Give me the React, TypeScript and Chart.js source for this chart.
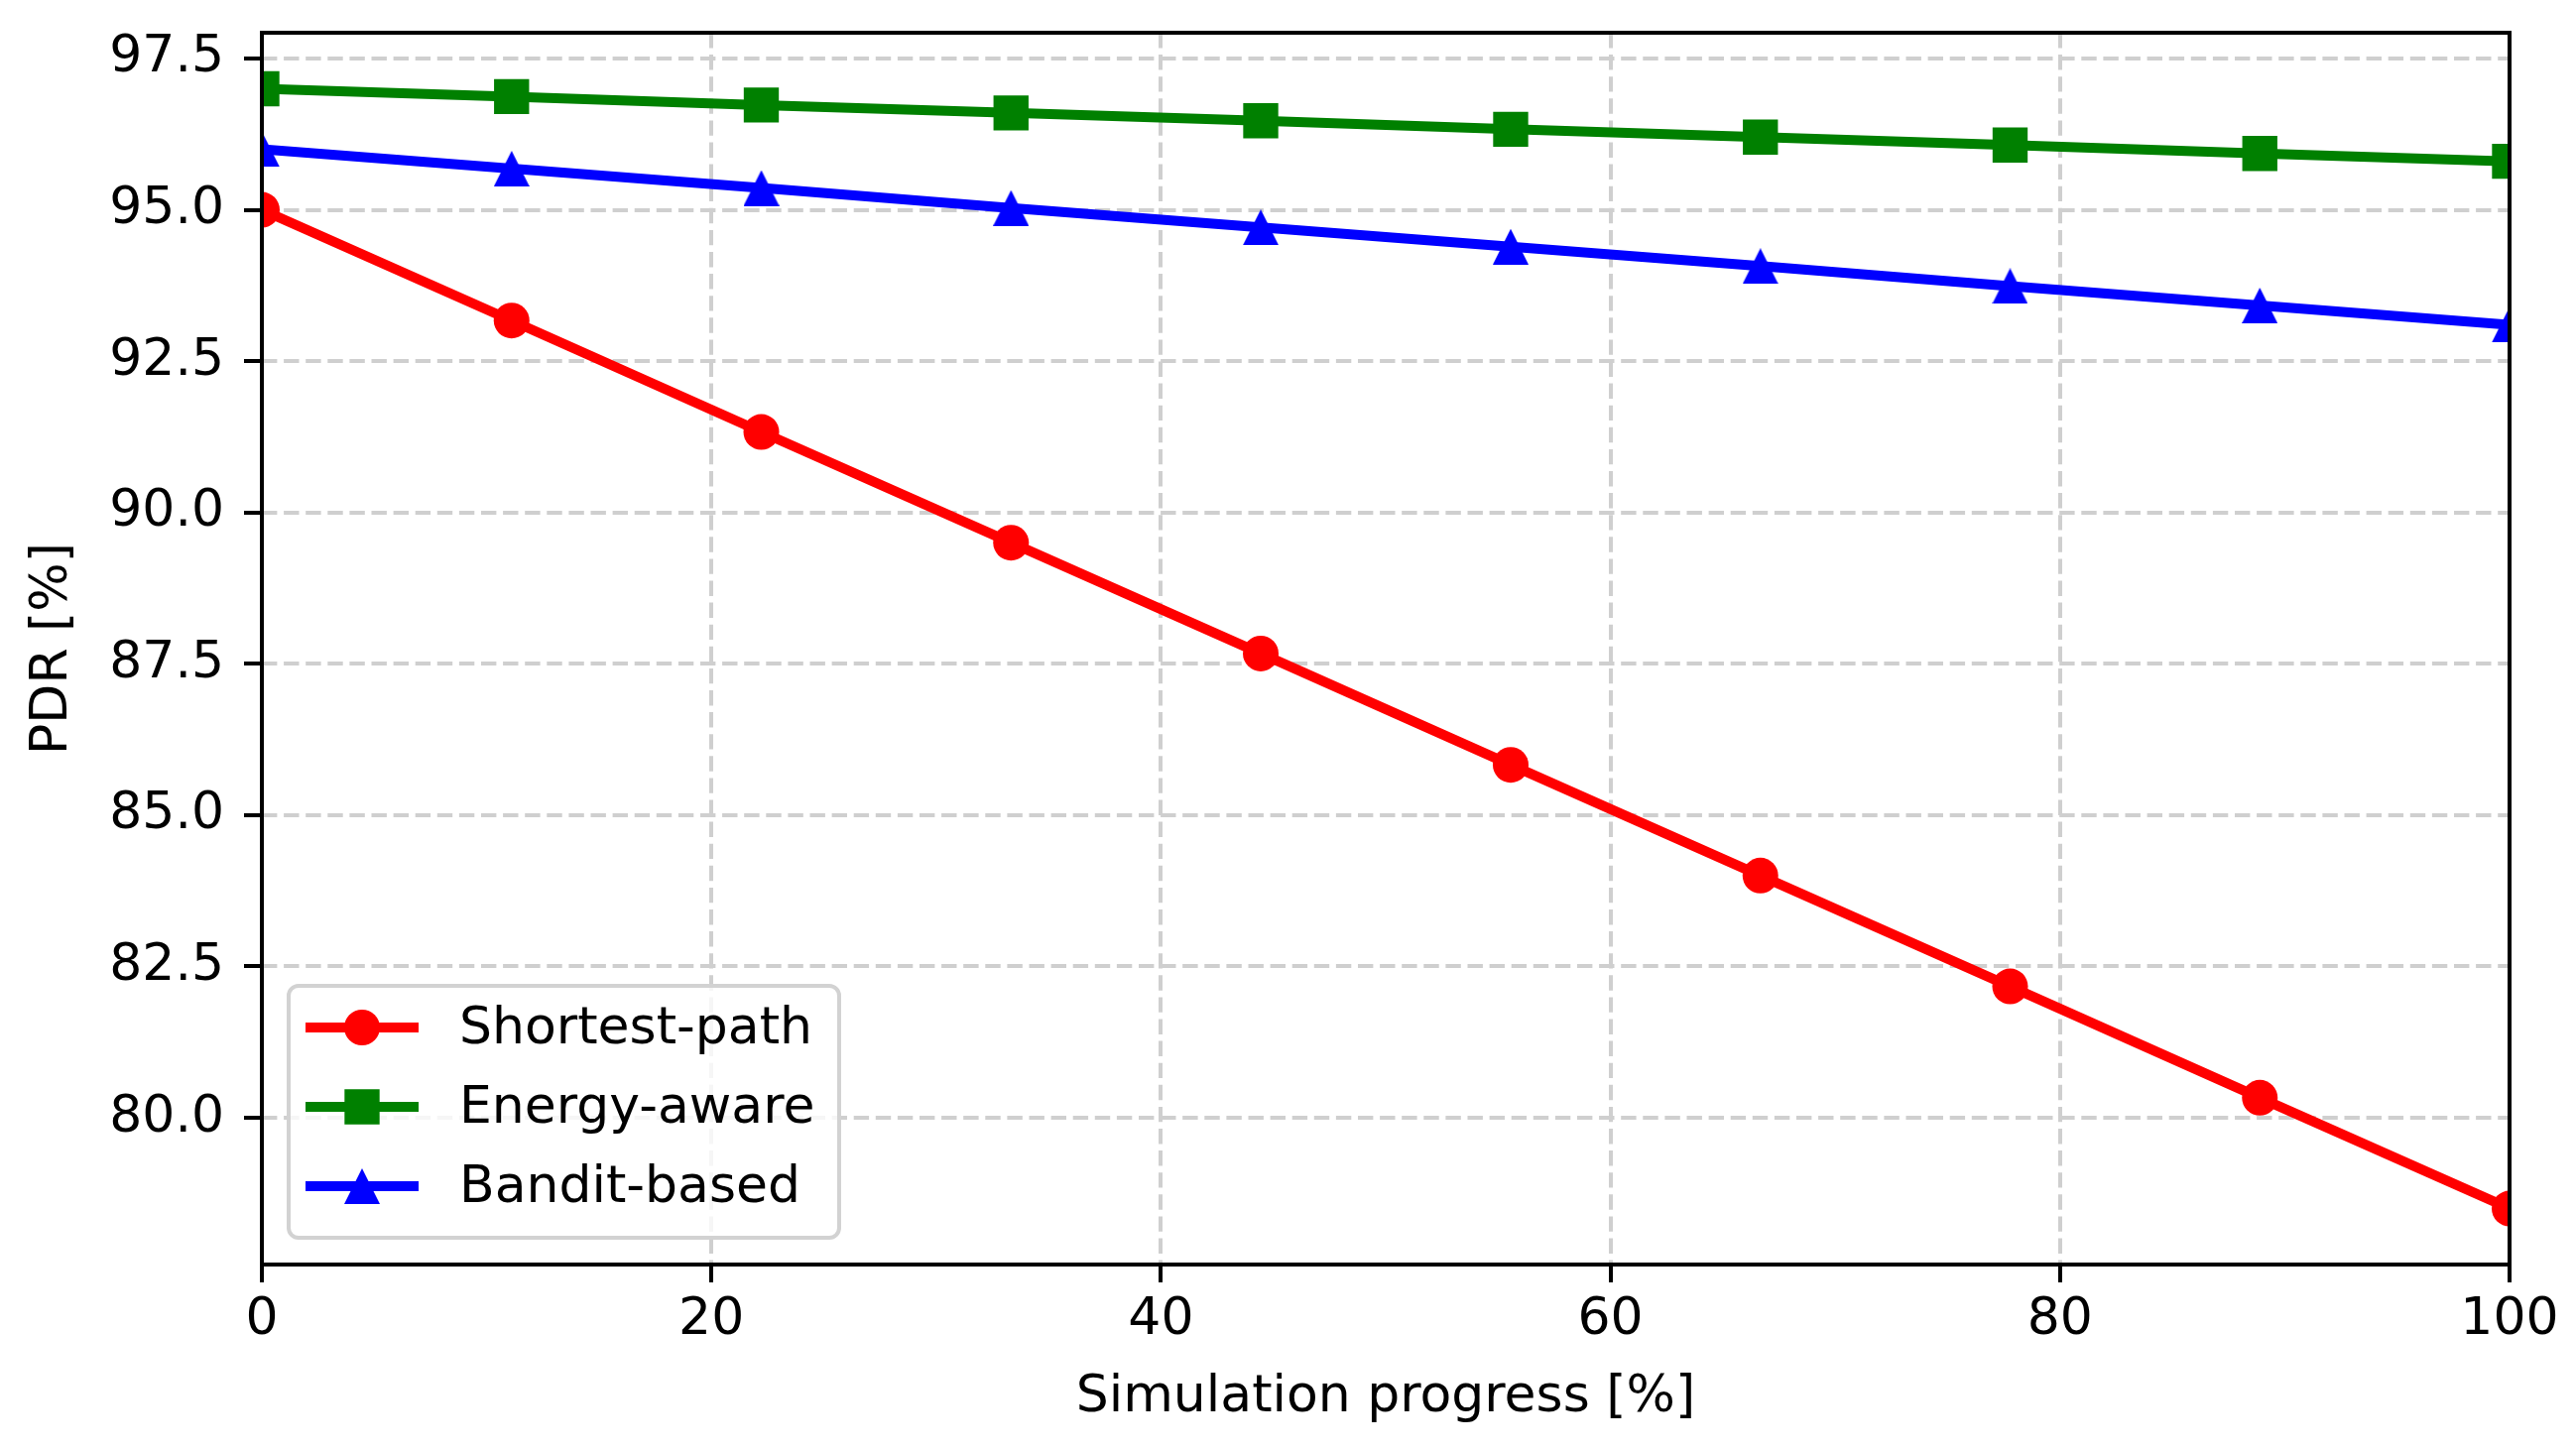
import React, { useEffect, useRef } from 'react';
import { Chart, registerables } from 'chart.js';
import { drawPoint } from 'chart.js/helpers';

Chart.register(...registerables);

// simulation progress [%] (10 evenly spaced runs)
const progress = [0, 11.11, 22.22, 33.33, 44.44, 55.56, 66.67, 77.78, 88.89, 100];

const shortestPath = [95.0, 93.17, 91.33, 89.5, 87.67, 85.83, 84.0, 82.17, 80.33, 78.5];
const energyAware = [97.0, 96.87, 96.73, 96.6, 96.47, 96.33, 96.2, 96.07, 95.93, 95.8];
const banditBased = [96.0, 95.68, 95.36, 95.03, 94.71, 94.39, 94.07, 93.74, 93.42, 93.1];

const xTicks = [0, 20, 40, 60, 80, 100];
const yTicks = [80.0, 82.5, 85.0, 87.5, 90.0, 92.5, 95.0, 97.5];

const FONT = "'DejaVu Sans', 'Liberation Sans', sans-serif";

function makeTriangle(color: string, w: number, h: number) {
  const c = document.createElement('canvas');
  c.width = w;
  c.height = h;
  const g = c.getContext('2d')!;
  g.fillStyle = color;
  g.beginPath();
  g.moveTo(w / 2, 0);
  g.lineTo(w, h);
  g.lineTo(0, h);
  g.closePath();
  g.fill();
  return c;
}

const framePlugin = {
  id: 'frame',
  afterDatasetsDraw(chart: any) {
    const { ctx, chartArea: a } = chart;
    ctx.save();
    ctx.strokeStyle = '#000';
    ctx.lineWidth = 4;
    ctx.strokeRect(a.left, a.top, a.right - a.left, a.bottom - a.top);
    ctx.restore();
  },
};

const legendPlugin = {
  id: 'mplLegend',
  afterDraw(chart: any) {
    const { ctx, chartArea: a } = chart;
    const w = 555;
    const h = 254;
    const x0 = a.left + 27;
    const y0 = a.bottom - 27 - h;
    ctx.save();
    ctx.beginPath();
    ctx.roundRect(x0, y0, w, h, 10);
    ctx.fillStyle = 'rgba(255,255,255,0.8)';
    ctx.fill();
    ctx.strokeStyle = '#d2d2d2';
    ctx.lineWidth = 4;
    ctx.stroke();

    chart.data.datasets.forEach((ds: any, i: number) => {
      const y = y0 + 42 + i * 80;
      const hx = x0 + 17;
      ctx.strokeStyle = ds.borderColor;
      ctx.lineWidth = ds.borderWidth;
      ctx.lineCap = 'butt';
      ctx.beginPath();
      ctx.moveTo(hx, y);
      ctx.lineTo(hx + 114, y);
      ctx.stroke();
      ctx.fillStyle = ds.pointBackgroundColor;
      drawPoint(ctx, { pointStyle: ds.pointStyle, radius: ds.pointRadius, borderWidth: 0, rotation: 0 } as any, hx + 57, y);
      ctx.fillStyle = '#000';
      ctx.font = `52px ${FONT}`;
      ctx.textAlign = 'left';
      ctx.textBaseline = 'middle';
      ctx.fillText(ds.label, x0 + 172, y + 2);
    });
    ctx.restore();
  },
};

export default function App() {
  const canvasRef = useRef<HTMLCanvasElement>(null);
  const chartRef = useRef<Chart | null>(null);

  useEffect(() => {
    document.body.style.margin = '0';
    if (!canvasRef.current) return;
    if (chartRef.current) chartRef.current.destroy();

    const toPoints = (ys: number[]) => progress.map((x, i) => ({ x, y: ys[i] }));
    const tickFont = { family: FONT, size: 52 };
    const noEdgePadding = (axis: any) => {
      axis.paddingTop = 0;
      axis.paddingBottom = 0;
      axis.paddingLeft = 0;
      axis.paddingRight = 0;
    };

    chartRef.current = new Chart(canvasRef.current, {
      type: 'line',
      data: {
        datasets: [
          {
            label: 'Shortest-path',
            data: toPoints(shortestPath),
            borderColor: '#ff0000',
            backgroundColor: '#ff0000',
            pointBackgroundColor: '#ff0000',
            pointStyle: 'circle',
            pointRadius: 18,
          },
          {
            label: 'Energy-aware',
            data: toPoints(energyAware),
            borderColor: '#008000',
            backgroundColor: '#008000',
            pointBackgroundColor: '#008000',
            pointStyle: 'rect',
            pointRadius: 25,
          },
          {
            label: 'Bandit-based',
            data: toPoints(banditBased),
            borderColor: '#0000ff',
            backgroundColor: '#0000ff',
            pointBackgroundColor: '#0000ff',
            pointStyle: makeTriangle('#0000ff', 36, 36),
            pointRadius: 18,
          },
        ].map((ds) => ({
          ...ds,
          borderWidth: 10,
          pointBorderWidth: 0,
          pointHoverRadius: ds.pointRadius,
          borderJoinStyle: 'round' as const,
          tension: 0,
          fill: false,
          clip: 0,
        })),
      },
      options: {
        animation: false,
        responsive: false,
        devicePixelRatio: 1,
        events: [],
        layout: { padding: { top: 33, right: 67, bottom: 0, left: 0 } },
        plugins: {
          legend: { display: false },
          tooltip: { enabled: false },
        },
        scales: {
          x: {
            type: 'linear',
            min: 0,
            max: 100,
            afterBuildTicks: (axis: any) => {
              axis.ticks = xTicks.map((v) => ({ value: v }));
            },
            afterFit: (axis: any) => {
              axis.height = 187;
              noEdgePadding(axis);
            },
            ticks: {
              font: tickFont,
              color: '#000',
              padding: 7,
              maxRotation: 0,
              autoSkip: false,
              callback: (v: any) => String(v),
            },
            grid: {
              color: '#cfcfcf',
              lineWidth: 4,
              drawTicks: true,
              tickLength: 18,
              tickWidth: 4,
              tickColor: '#000',
            },
            border: { display: false, dash: [15.4, 6.7] },
            title: {
              display: true,
              text: 'Simulation progress [%]',
              font: tickFont,
              color: '#000',
              padding: { top: 0, bottom: 21 },
            },
          },
          y: {
            type: 'linear',
            min: 77.575,
            max: 97.925,
            afterBuildTicks: (axis: any) => {
              axis.ticks = yTicks.map((v) => ({ value: v }));
            },
            afterFit: (axis: any) => {
              axis.width = 264;
              noEdgePadding(axis);
            },
            ticks: {
              font: tickFont,
              color: '#000',
              padding: 20,
              autoSkip: false,
              callback: (v: any) => Number(v).toFixed(1),
            },
            grid: {
              color: '#cfcfcf',
              lineWidth: 4,
              drawTicks: true,
              tickLength: 18,
              tickWidth: 4,
              tickColor: '#000',
            },
            border: { display: false, dash: [15.4, 6.7] },
            title: {
              display: true,
              text: 'PDR [%]',
              font: tickFont,
              color: '#000',
              padding: { top: 22, bottom: 0 },
            },
          },
        },
      },
      plugins: [framePlugin, legendPlugin],
    } as any);

    return () => {
      if (chartRef.current) {
        chartRef.current.destroy();
        chartRef.current = null;
      }
    };
  }, []);

  return (
    <div style={{ width: '2597px', height: '1462px', background: '#fff' }}>
      <canvas ref={canvasRef} width={2597} height={1462} />
    </div>
  );
}
